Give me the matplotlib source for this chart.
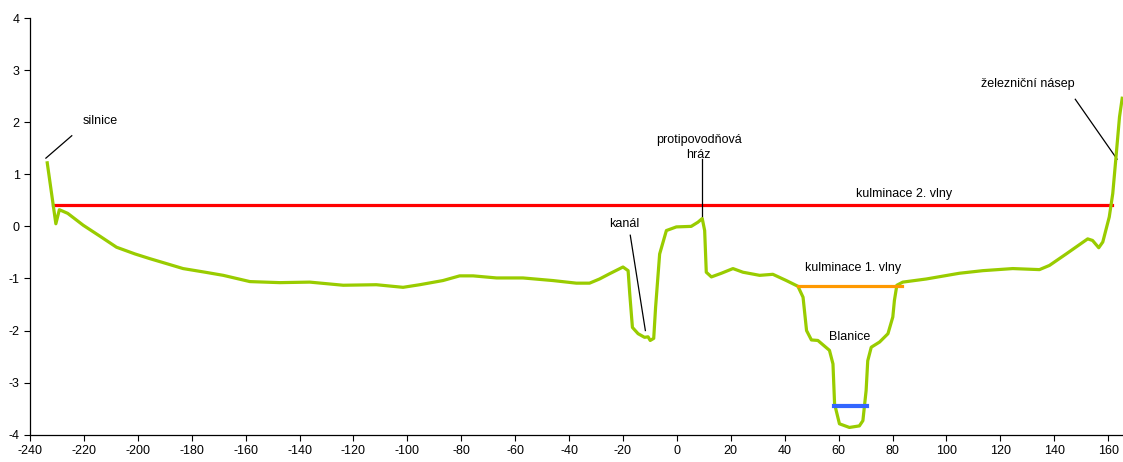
import matplotlib
matplotlib.use("Agg")
import matplotlib.pyplot as plt

plt.rcParams['font.family'] = ['Liberation Sans', 'DejaVu Sans']
plt.rcParams['axes.unicode_minus'] = False

# terrain profile (distance, elevation)
dist = [-233.6, -230.4, -229.1, -226.0, -220.2, -214.0, -207.9, -201.0, -195.5, -189.0,
        -183.2, -175.0, -168.3, -158.4, -147.3, -136.2, -123.8, -111.5, -101.6, -95.4,
        -86.8, -80.6, -75.6, -66.9, -57.1, -46.0, -37.3, -32.4, -28.7, -25.0,
        -20.0, -18.1, -17.5, -16.5, -14.4, -12.0, -10.7, -9.9, -8.6, -7.9,
        -6.4, -3.9, -0.2, 5.3, 7.8, 9.4, 10.3, 10.9, 12.8, 16.5,
        20.8, 24.5, 30.7, 35.6, 40.6, 44.9, 46.8, 48.1, 49.9, 52.3,
        56.6, 57.9, 58.5, 60.3, 64.0, 67.7, 69.0, 70.2, 70.8, 72.1,
        75.2, 78.3, 80.1, 80.7, 81.6, 83.8, 92.5, 104.8, 113.5, 124.6,
        134.5, 138.2, 144.4, 152.4, 154.2, 156.5, 158.0, 160.4, 161.7, 162.9,
        164.2, 165.2]
elev = [1.22, 0.05, 0.32, 0.25, 0.02, -0.19, -0.40, -0.53, -0.62, -0.72,
        -0.81, -0.88, -0.94, -1.06, -1.08, -1.07, -1.13, -1.12, -1.17, -1.12,
        -1.04, -0.95, -0.95, -0.99, -0.99, -1.04, -1.09, -1.09, -1.01, -0.91,
        -0.78, -0.85, -1.29, -1.94, -2.06, -2.13, -2.12, -2.19, -2.15, -1.55,
        -0.53, -0.08, -0.01, 0.0, 0.08, 0.15, -0.08, -0.88, -0.97, -0.90,
        -0.81, -0.88, -0.94, -0.92, -1.04, -1.15, -1.36, -2.0, -2.18, -2.19,
        -2.38, -2.64, -3.41, -3.79, -3.86, -3.83, -3.73, -3.15, -2.58, -2.32,
        -2.22, -2.06, -1.74, -1.42, -1.13, -1.07, -1.01, -0.90, -0.85, -0.81,
        -0.83, -0.75, -0.53, -0.24, -0.27, -0.41, -0.30, 0.18, 0.63, 1.33,
        2.10, 2.46]

# water levels: start, end, level
wave2 = [-231.4, 161.3, 0.42]
wave1 = [44.9, 83.6, -1.15]
river = [58.1, 70.5, -3.44]

fig = plt.figure(figsize=(11.23, 4.62), dpi=100)
ax = fig.add_axes([0.0267, 0.059, 0.9733, 0.902])

ax.plot(dist, elev, color='#99CC00', linewidth=2.3, solid_joinstyle='round', zorder=3)
ax.plot(wave2[:2], [wave2[2]] * 2, color='#FF0000', linewidth=2.3, zorder=2)
ax.plot(wave1[:2], [wave1[2]] * 2, color='#FF9900', linewidth=2.3, zorder=4)
ax.plot(river[:2], [river[2]] * 2, color='#3366FF', linewidth=3, zorder=4)

# leader lines for labels
ax.plot([-234.1, -224.5], [1.31, 1.74], color='black', lw=0.9)
ax.plot([-17.3, -11.7], [-0.17, -2.0], color='black', lw=0.9)
ax.plot([9.3, 9.3], [1.30, 0.115], color='black', lw=0.9)
ax.plot([147.8, 163.3], [2.44, 1.29], color='black', lw=0.9)

fs = 9
ax.text(-220.5, 2.02, 'silnice', fontsize=fs, ha='left', va='center')
ax.text(-19.4, 0.05, 'kanál', fontsize=fs, ha='center', va='center')
ax.text(8.1, 1.52, 'protipovodňová\nhráz', fontsize=fs, ha='center', va='center',
        linespacing=1.3)
ax.text(84.1, 0.62, 'kulminace 2. vlny', fontsize=fs, ha='center', va='center')
ax.text(65.3, -0.79, 'kulminace 1. vlny', fontsize=fs, ha='center', va='center')
ax.text(64.0, -2.12, 'Blanice', fontsize=fs, ha='center', va='center')
ax.text(130.2, 2.74, 'železniční násep', fontsize=fs, ha='center', va='center')

ax.set_xlim(-240, 165.5)
ax.set_ylim(-4, 4)
ax.set_xticks(range(-240, 161, 20))
ax.set_yticks(range(-4, 5))
ax.tick_params(labelsize=fs, direction='out', length=4, width=0.8)
for s in ['top', 'right']:
    ax.spines[s].set_visible(False)
ax.spines['left'].set_linewidth(0.9)
ax.spines['bottom'].set_linewidth(0.9)

fig.savefig('out.png', dpi=100)
